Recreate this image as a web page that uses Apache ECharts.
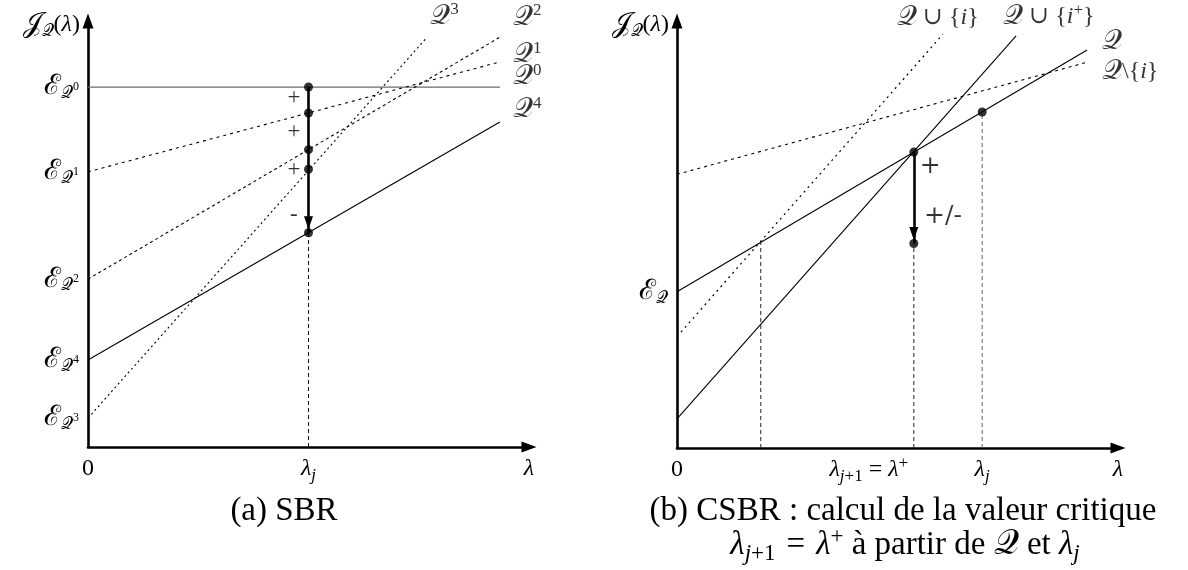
<!DOCTYPE html>
<html><head><meta charset="utf-8">
<script src="https://cdn.jsdelivr.net/npm/echarts@6/dist/echarts.min.js"></script>
<style>html,body{margin:0;padding:0;background:#fff}#c{width:1188px;height:570px}</style>
</head><body><div id="c"></div>
<script>
// ===== Panel (a) SBR : five candidate lines J(λ) = E + λ·slope =====
const aNames   = ['Q0', 'Q1', 'Q2', 'Q3', 'Q4'];
const aSup     = ['0', '1', '2', '3', '4'];
const aXEnd    = [9.34, 9.34, 9.34, 7.69, 9.34];
const aYStart  = [8.45, 6.46, 3.94, 0.68, 2.04];   // E_{Q^k} intercepts
const aYEnd    = [8.45, 9.04, 9.62, 9.62, 7.63];
const aLambdaJ = 5.0;
const aDots    = [8.45, 7.84, 6.98, 6.52, 5.03];   // values of each line at λ_j
const aSigns   = ['+', '+', '+', '-'];
const aSignX   = [4.67, 4.67, 4.67, 4.67];
const aSignY   = [8.19, 7.39, 6.50, 5.45];
const aXTicks  = [0, aLambdaJ, 10];

// ===== Panel (b) CSBR =====
const bNames   = ['QuI', 'QuIp', 'Q', 'QmI'];
const bXEnd    = [6.03, 7.69, 9.30, 9.32];
const bYStart  = [2.61, 0.68, 3.66, 6.41];
const bYEnd    = [9.69, 9.65, 9.32, 9.04];
const bLambdaPlus  = 5.37;
const bLambdaJ     = 6.92;
const bLambdaCross = 1.90;
const bCrossY      = 4.82;
const bDotsX   = [5.37, 5.37, 6.92];
const bDotsY   = [6.93, 4.79, 7.87];
const bSigns   = ['+', '+/-'];
const bSignX   = [5.74, 6.03];
const bSignY   = [6.60, 5.42];
const bXTicks  = [0, bLambdaPlus, bLambdaJ, 10];

const F = "'Liberation Serif','DejaVu Serif',serif";
const FD = "'DejaVu Serif',serif";
const N = 'normal';
function mkRich(base, scSize, subSize, lh) {
  return {
    m:    {fontFamily: F, fontSize: base, lineHeight: lh, fontWeight: N, color: '#000'},
    it:   {fontFamily: F, fontSize: base, lineHeight: lh, fontWeight: N, fontStyle: 'italic', color: '#000'},
    sc:   {fontFamily: F, fontSize: scSize, lineHeight: lh, fontWeight: N, color: '#000'},
    sub:  {fontFamily: F, fontSize: subSize, lineHeight: Math.round(lh * 0.43), fontWeight: N, verticalAlign: 'bottom', color: '#000'},
    subit:{fontFamily: F, fontSize: subSize, lineHeight: Math.round(lh * 0.43), fontWeight: N, verticalAlign: 'bottom', fontStyle: 'italic', color: '#000'},
    sup:  {fontFamily: F, fontSize: subSize, lineHeight: Math.round(lh * 0.5), fontWeight: N, verticalAlign: 'top', color: '#000'},
    ssup: {fontFamily: F, fontSize: Math.round(subSize * 0.72), lineHeight: 12, fontWeight: N, verticalAlign: 'middle', color: '#000'},
    padr: {fontFamily: F, fontSize: base, lineHeight: lh, width: 90}
  };
}
const RICH = mkRich(24, 28, 17, 30);
const baseText = {fontFamily: F, fontSize: 24, fontWeight: N, color: '#000', rich: RICH};
const RICHC = mkRich(33, 35, 23, 40);
const capText = {fontFamily: F, fontSize: 33, fontWeight: N, color: '#000', rich: RICHC};

const aStyles = [
  {color: '#6a6a6a', width: 1.3, type: 'solid'},
  {color: '#000', width: 1.1, type: [3, 4]},
  {color: '#000', width: 1.1, type: [3, 3]},
  {color: '#000', width: 1.1, type: [2, 3]},
  {color: '#000', width: 1.1, type: 'solid'}
];
const bStyles = [
  {color: '#000', width: 1.2, type: [2, 4]},
  {color: '#000', width: 1.1, type: 'solid'},
  {color: '#000', width: 1.1, type: 'solid'},
  {color: '#000', width: 1.1, type: [3, 4]}
];
const aLabelOff = [[13, -10], [13, -7], [13, -20], [3, -21], [13, -12]];
const bLabelText = [
  '{sc|𝒬}{m| ∪ {}{it|i}}',
  '{sc|𝒬}{m| ∪ {}{it|i}{sup|+}}',
  '{sc|𝒬}',
  '{sc|𝒬}{m|\\{}{it|i}}'
];
const bLabelOff = [[-46, -17], [-13, -19], [15, -8], [14, 10]];

function axisLineOpt() {
  return {show: true, onZero: false, symbol: ['none', 'triangle'], symbolSize: [11, 15],
          lineStyle: {color: '#000', width: 2.6}};
}

const series = [];
aNames.forEach((n, i) => {
  series.push({type: 'line', name: n, xAxisIndex: 0, yAxisIndex: 0, symbol: 'none', silent: true,
    data: [[0, aYStart[i]], [aXEnd[i], aYEnd[i]]], lineStyle: aStyles[i], z: 2});
});
series.push({type: 'line', xAxisIndex: 0, yAxisIndex: 0, symbol: 'none', silent: true,
  data: [[aLambdaJ, 0], [aLambdaJ, aDots[4]]], lineStyle: {color: '#111', width: 1, type: [4, 3]}});
series.push({type: 'scatter', xAxisIndex: 0, yAxisIndex: 0, symbolSize: 9, itemStyle: {color: '#000'}, z: 5,
  data: aDots.map(v => [aLambdaJ, v]),
  markLine: {silent: true, symbol: ['none', 'triangle'], symbolSize: [9, 13], symbolOffset: [[0, 0], [0, 10]],
    label: {show: false}, lineStyle: {color: '#000', width: 2.6, type: 'solid'},
    data: [[{coord: [aLambdaJ, aDots[0]]}, {coord: [aLambdaJ, aDots[4]]}]]}
});
series.push({type: 'scatter', xAxisIndex: 0, yAxisIndex: 0, symbolSize: 0, silent: true,
  data: aSigns.map((s, i) => ({name: s, value: [aSignX[i], aSignY[i]]})),
  label: {show: true, position: 'inside', formatter: '{b}', fontFamily: F, fontSize: 23, color: '#000'}});
series.push({type: 'scatter', xAxisIndex: 0, yAxisIndex: 0, symbolSize: 0, silent: true,
  data: aNames.map((n, i) => ({value: [aXEnd[i], aYEnd[i]],
    label: {show: true, position: 'right', distance: 0, offset: aLabelOff[i],
      formatter: '{sc|𝒬}{sup|' + aSup[i] + '}', ...baseText}}))});

bNames.forEach((n, i) => {
  series.push({type: 'line', name: n, xAxisIndex: 1, yAxisIndex: 1, symbol: 'none', silent: true,
    data: [[0, bYStart[i]], [bXEnd[i], bYEnd[i]]], lineStyle: bStyles[i], z: 2});
});
[[bLambdaCross, bCrossY, '#222'], [bLambdaPlus, bDotsY[1], '#222'], [bLambdaJ, bDotsY[2], '#666']].forEach(g => {
  series.push({type: 'line', xAxisIndex: 1, yAxisIndex: 1, symbol: 'none', silent: true,
    data: [[g[0], 0], [g[0], g[1]]], lineStyle: {color: g[2], width: 1, type: [4, 3]}});
});
series.push({type: 'scatter', xAxisIndex: 1, yAxisIndex: 1, symbolSize: 9, itemStyle: {color: '#000'}, z: 5,
  data: bDotsX.map((x, i) => [x, bDotsY[i]]),
  markLine: {silent: true, symbol: ['none', 'triangle'], symbolSize: [9, 13], symbolOffset: [[0, 0], [0, 10]],
    label: {show: false}, lineStyle: {color: '#000', width: 2.6, type: 'solid'},
    data: [[{coord: [bDotsX[0], bDotsY[0]]}, {coord: [bDotsX[1], bDotsY[1]]}]]}
});
series.push({type: 'scatter', xAxisIndex: 1, yAxisIndex: 1, symbolSize: 0, silent: true,
  data: bSigns.map((s, i) => ({name: s, value: [bSignX[i], bSignY[i]]})),
  label: {show: true, position: 'inside', formatter: '{b}', fontFamily: FD, fontSize: 25, color: '#000'}});
series.push({type: 'scatter', xAxisIndex: 1, yAxisIndex: 1, symbolSize: 0, silent: true,
  data: bNames.map((n, i) => ({value: [bXEnd[i], bYEnd[i]],
    label: {show: true, position: 'right', distance: 0, offset: bLabelOff[i],
      formatter: bLabelText[i], ...baseText}}))});

const aYLabels = {};
aYStart.forEach((v, i) => { aYLabels[v] = '{sc|ℰ}{sub|𝒬}{ssup|' + aSup[i] + '}'; });
const aXLabels = {0: '{m|0}', [aLambdaJ]: '{it|λ}{subit|j}', 10: '{it|λ}'};
const bXLabels = {0: '{m|0}', [bLambdaPlus]: '{it|λ}{subit|j}{sub|+1}{m| = }{it|λ}{sup|+}{padr| }',
                  [bLambdaJ]: '{it|λ}{subit|j}', 10: '{it|λ}'};
const yName = '{sc|𝒥}{sub|𝒬}{m|(}{it|λ}{m|)}';

const option = {
  animation: false,
  backgroundColor: '#fff',
  title: [
    {text: '(a) SBR', left: 284, top: 495, textAlign: 'center', padding: 0, textStyle: capText},
    {text: '(b) CSBR : calcul de la valeur critique', left: 903, top: 495, textAlign: 'center', padding: 0,
     textStyle: capText},
    {text: '{it|λ}{subit|j}{sub|+1}{m| \u200A=\u200A }{it|λ}{sup|+}{m| à partir de }{sc|𝒬}{m| et }{it|λ}{subit|j}',
     left: 905, top: 525, textAlign: 'center', padding: 0, textStyle: capText}
  ],
  grid: [
    {left: 88, top: 21, width: 441, height: 426},
    {left: 677, top: 21, width: 441, height: 427}
  ],
  xAxis: [
    {gridIndex: 0, type: 'value', min: 0, max: 10, axisLine: axisLineOpt(), axisTick: {show: false},
     splitLine: {show: false},
     axisLabel: {customValues: aXTicks, margin: 7, formatter: v => aXLabels[v] || '', ...baseText}},
    {gridIndex: 1, type: 'value', min: 0, max: 10, axisLine: axisLineOpt(), axisTick: {show: false},
     splitLine: {show: false},
     axisLabel: {customValues: bXTicks, margin: 7, formatter: v => bXLabels[v] || '', ...baseText}}
  ],
  yAxis: [
    {gridIndex: 0, type: 'value', min: 0, max: 10, axisLine: axisLineOpt(), axisTick: {show: false},
     splitLine: {show: false},
     axisLabel: {customValues: aYStart, margin: 9, formatter: v => aYLabels[v] || '', ...baseText},
     name: yName, nameLocation: 'end', nameGap: -4,
     nameTextStyle: {...baseText, align: 'right', verticalAlign: 'middle', padding: [0, 8, 0, 0]}},
    {gridIndex: 1, type: 'value', min: 0, max: 10, axisLine: axisLineOpt(), axisTick: {show: false},
     splitLine: {show: false},
     axisLabel: {customValues: [bYStart[2]], margin: 9, formatter: () => '{sc|ℰ}{sub|𝒬}', ...baseText},
     name: yName, nameLocation: 'end', nameGap: -4,
     nameTextStyle: {...baseText, align: 'right', verticalAlign: 'middle', padding: [0, 8, 0, 0]}}
  ],
  series: series
};
echarts.init(document.getElementById('c'), null, {renderer: 'canvas'}).setOption(option);
</script></body></html>
